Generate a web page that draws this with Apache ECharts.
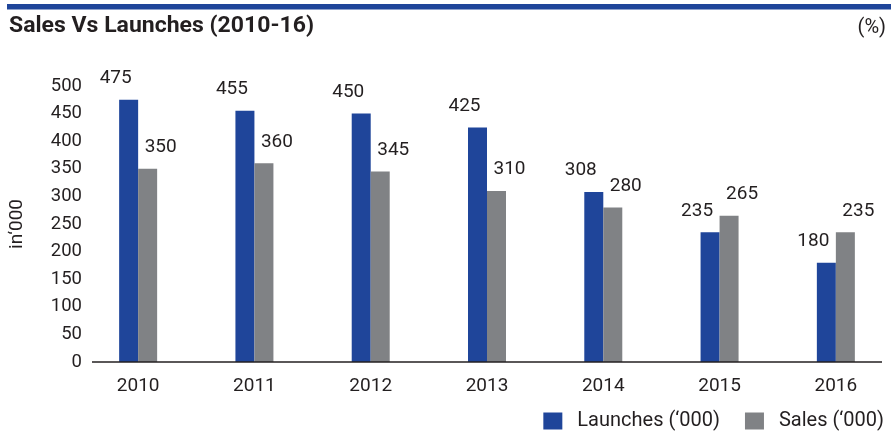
<!DOCTYPE html>
<html><head><meta charset="utf-8">
<script src="https://cdn.jsdelivr.net/npm/echarts@6/dist/echarts.min.js"></script>
<style>html,body{margin:0;padding:0;background:#fff}#c{width:891px;height:431px}</style>
</head><body><div id="c"></div>
<script>
const years = ['2010','2011','2012','2013','2014','2015','2016'];
const launches = [475, 455, 450, 425, 308, 235, 180];
const sales = [350, 360, 345, 310, 280, 265, 235];
const yTicks = [0, 50, 100, 150, 200, 250, 300, 350, 400, 450, 500];
const titleText = 'Sales Vs Launches (2010-16)';
const unitText = '(%)';
const yName = 'in\u2018000';
const seriesNames = ['Launches (\u2018000)', 'Sales (\u2018000)'];

const BLUE = '#1f459a', GRAY = '#808285', TXT = '#231f20';
const FONT = 'Roboto';

function textWidth(t, font){
  const c = document.createElement('canvas').getContext('2d');
  c.font = font; return c.measureText(t).width;
}
const titleScale = 305 / textWidth(titleText, 'bold 22px Roboto');

const chart = echarts.init(document.getElementById('c'), null, {renderer:'canvas'});
const option = {
  animation: false,
  textStyle: {fontFamily: FONT, color: TXT},
  grid: {left: 80, right: -3, top: 86, bottom: 69, containLabel: false, outerBoundsMode: 'none'},
  legend: {
    right: 2, top: 406, itemWidth: 19, itemHeight: 17, itemGap: 25, icon: 'rect',
    textStyle: {fontSize: 20, color: TXT, fontFamily: FONT, padding: [0, 0, 0, 10]},
    data: seriesNames
  },
  xAxis: {
    type: 'category', data: years,
    axisLine: {show: false}, axisTick: {show: false},
    axisLabel: {fontSize: 19, color: TXT, margin: 15, fontFamily: FONT}
  },
  yAxis: {
    type: 'value', min: yTicks[0], max: yTicks[yTicks.length-1], interval: 50,
    name: yName, nameLocation: 'middle', nameGap: 53, nameRotate: 90,
    nameTextStyle: {fontSize: 19, color: TXT, fontFamily: FONT},
    axisLine: {show: false}, axisTick: {show: false}, splitLine: {show: false},
    axisLabel: {fontSize: 18.5, color: TXT, margin: -2, fontFamily: FONT}
  },
  series: [
    {name: seriesNames[0], type: 'bar', data: launches, barWidth: 19, barGap: '0%',
     itemStyle: {color: BLUE},
     label: {show: true, position: 'top', offset: [-13, -7], fontSize: 19, color: TXT, fontFamily: FONT}},
    {name: seriesNames[1], type: 'bar', data: sales, barWidth: 19, barGap: '0%',
     itemStyle: {color: GRAY},
     label: {show: true, position: 'top', offset: [13, -7], fontSize: 19, color: TXT, fontFamily: FONT}}
  ]
};
chart.setOption(option);
const y0 = chart.convertToPixel({yAxisIndex: 0}, 0);
chart.setOption({
  graphic: [
    {type: 'rect', shape: {x: 7, y: 4, width: 884, height: 5.5}, style: {fill: BLUE}},
    {type: 'text', x: 9, y: 26, scaleX: titleScale,
     style: {text: titleText, fontSize: 22, fontWeight: 'bold', fontFamily: FONT, fill: TXT, verticalAlign: 'middle', align: 'left'}},
    {type: 'text', x: 886, y: 28,
     style: {text: unitText, fontSize: 20, fontFamily: FONT, fill: TXT, verticalAlign: 'middle', align: 'right'}},
    {type: 'line', shape: {x1: 92, y1: y0, x2: 882, y2: y0}, style: {stroke: '#231f20', lineWidth: 1.5}, z: 10}
  ]
});
</script></body></html>
